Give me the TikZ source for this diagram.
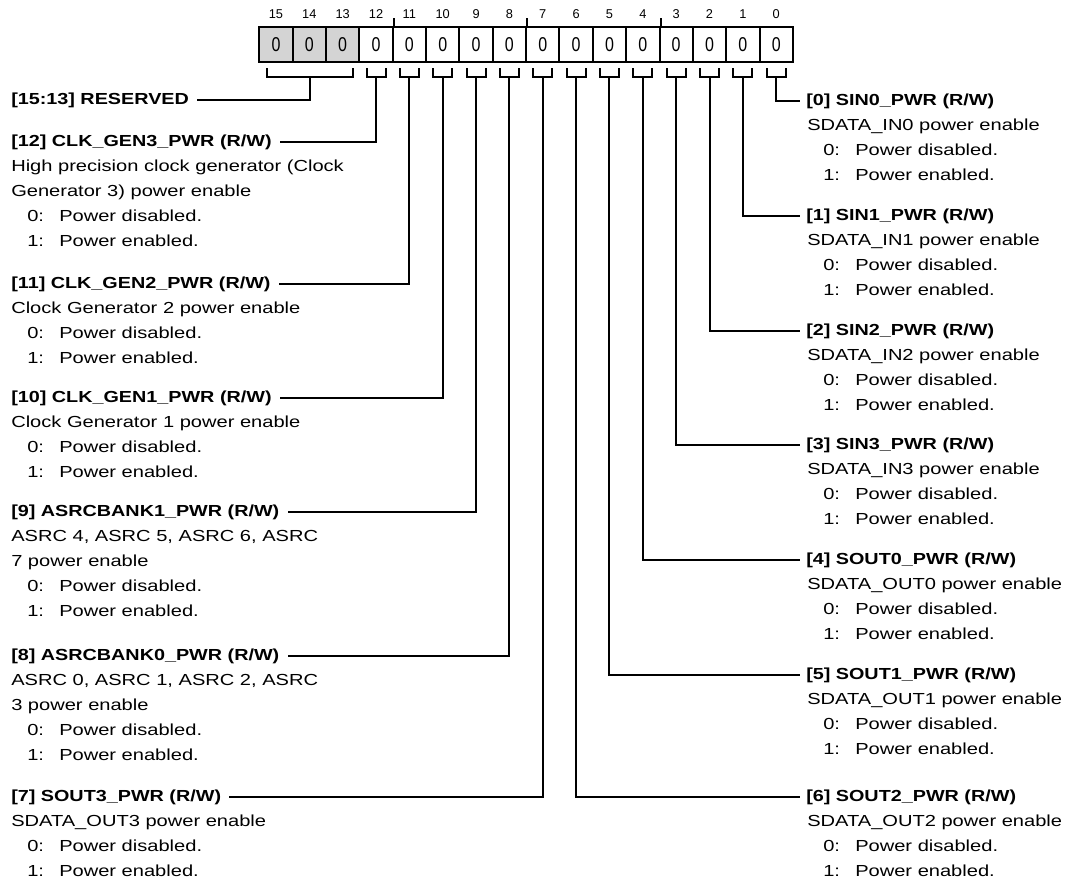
\documentclass[tikz,border=0pt]{standalone}
\usepackage{fontspec}
\setmainfont{Liberation Sans}[FakeStretch=1.255,BoldFeatures={FakeStretch=1.236}]
\newfontfamily\numfont{Liberation Sans}
\newfontfamily\cellfont{Liberation Sans}[FakeStretch=0.8]

% the two value lines under every field
\newcommand{\pwrvals}{%
	\hspace*{12pt}\makebox[24pt][l]{0:}Power disabled.\\
	\hspace*{12pt}\makebox[24pt][l]{1:}Power enabled.}

\tikzset{
	cell/.style={draw, line width=1.5pt, minimum width=25pt, minimum height=25.8pt, inner sep=0pt, font=\cellfont\fontsize{15}{15}\selectfont},
	rsvd/.style={fill=black!17},
	bitno/.style={inner sep=0pt, font=\numfont\fontsize{9.6}{10}\selectfont},
	brk/.style={line width=1.5pt},
	lead/.style={line width=1.5pt},
	hdr/.style={anchor=base west, inner sep=0pt, font=\bfseries\fontsize{12}{18.75}\selectfont},
	dsc/.style={anchor=north west, inner sep=0pt, align=left, font=\fontsize{12}{18.75}\selectfont},
}

\begin{document}
\begin{tikzpicture}[x=0.75pt,y=-0.75pt]

	\useasboundingbox (0,0) rectangle (1070,886);
	\fill[white] (0,0) rectangle (1070,886);

	% register cells
	\foreach \b in {15,14,13}{
		\pgfmathsetmacro{\xc}{259.3+(15.5-\b)*33.35}
		\node[cell,rsvd] (c\b) at (\xc,44.5) {0};
		\node[bitno] (n\b) at (\xc,14) {\b};
	}
	\foreach \b in {12,...,0}{
		\pgfmathsetmacro{\xc}{259.3+(15.5-\b)*33.35}
		\node[cell] (c\b) at (\xc,44.5) {0};
		\node[bitno] (n\b) at (\xc,14) {\b};
	}
	% nibble ticks
	\foreach \b in {12,8,4} \draw[brk] (c\b.north east) -- ++(0,-8);

	% brackets
	\draw[brk] (266.7,68) -- (266.7,77) -- (352.7,77) -- (352.7,68);
	\coordinate (srsv) at (309.7,77);
	\foreach \b in {12,...,0}{
		\pgfmathsetmacro{\xc}{259.3+(15.5-\b)*33.35}
		\draw[brk] ({\xc-9.5},68) -- ({\xc-9.5},77) -- ({\xc+9.5},77) -- ({\xc+9.5},68);
		\coordinate (s\b) at (\xc,77);
	}

	% left fields
	\node[hdr] (hrsv) at (11,104.5) {[15:13] RESERVED};
	\node[hdr] (h12) at (11,146.5) {[12] CLK\_GEN3\_PWR (R/W)};
	\node[dsc] (d12) at (11,154) {\strut High precision clock generator (Clock\\Generator 3) power enable\\\pwrvals};
	\node[hdr] (h11) at (11,288.5) {[11] CLK\_GEN2\_PWR (R/W)};
	\node[dsc] (d11) at (11,296) {\strut Clock Generator 2 power enable\\\pwrvals};
	\node[hdr] (h10) at (11,402.5) {[10] CLK\_GEN1\_PWR (R/W)};
	\node[dsc] (d10) at (11,410) {\strut Clock Generator 1 power enable\\\pwrvals};
	\node[hdr] (h9) at (11,516.5) {[9] ASRCBANK1\_PWR (R/W)};
	\node[dsc] (d9) at (11,524) {\strut ASRC 4, ASRC 5, ASRC 6, ASRC\\7 power enable\\\pwrvals};
	\node[hdr] (h8) at (11,660.5) {[8] ASRCBANK0\_PWR (R/W)};
	\node[dsc] (d8) at (11,668) {\strut ASRC 0, ASRC 1, ASRC 2, ASRC\\3 power enable\\\pwrvals};
	\node[hdr] (h7) at (11,801.5) {[7] SOUT3\_PWR (R/W)};
	\node[dsc] (d7) at (11,809) {\strut SDATA\_OUT3 power enable\\\pwrvals};

	% right fields
	\node[hdr] (h0) at (806,105.5) {[0] SIN0\_PWR (R/W)};
	\node[dsc] (d0) at (807,113) {\strut SDATA\_IN0 power enable\\\pwrvals};
	\node[hdr] (h1) at (806,220.5) {[1] SIN1\_PWR (R/W)};
	\node[dsc] (d1) at (807,228) {\strut SDATA\_IN1 power enable\\\pwrvals};
	\node[hdr] (h2) at (806,335.5) {[2] SIN2\_PWR (R/W)};
	\node[dsc] (d2) at (807,343) {\strut SDATA\_IN2 power enable\\\pwrvals};
	\node[hdr] (h3) at (806,449.5) {[3] SIN3\_PWR (R/W)};
	\node[dsc] (d3) at (807,457) {\strut SDATA\_IN3 power enable\\\pwrvals};
	\node[hdr] (h4) at (806,564.5) {[4] SOUT0\_PWR (R/W)};
	\node[dsc] (d4) at (807,572) {\strut SDATA\_OUT0 power enable\\\pwrvals};
	\node[hdr] (h5) at (806,679.5) {[5] SOUT1\_PWR (R/W)};
	\node[dsc] (d5) at (807,687) {\strut SDATA\_OUT1 power enable\\\pwrvals};
	\node[hdr] (h6) at (806,801.5) {[6] SOUT2\_PWR (R/W)};
	\node[dsc] (d6) at (807,809) {\strut SDATA\_OUT2 power enable\\\pwrvals};

	% leader lines
	\draw[lead,shorten >=6pt] (srsv) |- (hrsv.east);
	\foreach \b in {12,...,7} \draw[lead,shorten >=6pt] (s\b) |- (h\b.east);
	\foreach \b in {0,...,6} \draw[lead,shorten >=4.5pt] (s\b) |- (h\b.west);

\end{tikzpicture}
\end{document}
